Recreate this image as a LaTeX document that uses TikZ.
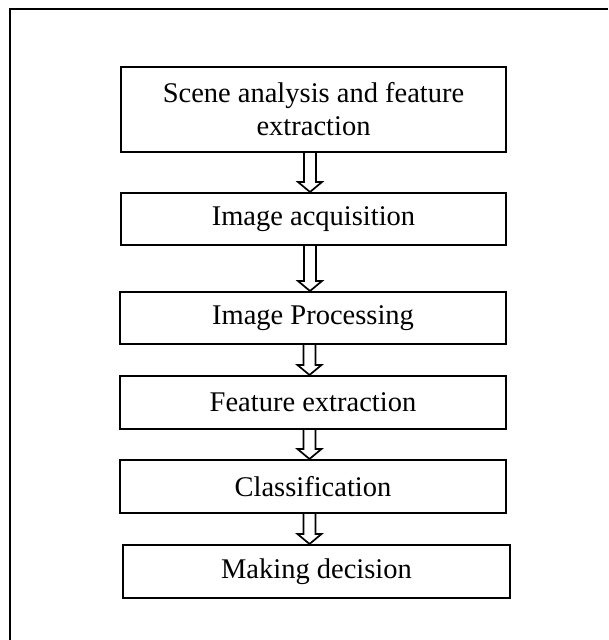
\documentclass[tikz,border=0pt]{standalone}
\usepackage{fontspec}
\setmainfont{Liberation Serif}
\usetikzlibrary{calc}
\tikzset{
  box/.style={draw=black, line width=2pt, fill=white, inner sep=0pt, align=center,
    font=\fontsize{28.5}{33}\selectfont},
  harrow/.style={draw=black, line width=1.7pt, line join=miter},
  frame/.style={draw=black, line width=2.6pt}
}
\newcommand\hollowarrow[2]{%
  \draw[harrow] ($(#1.south)+(-9.5pt,0pt)$)
    -- ($(#1.south |- #2.north)+(-9.5pt,10pt)$)
    -- ($(#1.south |- #2.north)+(-15.5pt,10pt)$)
    -- ($(#1.south |- #2.north)+(-3.5pt,0pt)$)
    -- ($(#1.south |- #2.north)+(8.5pt,10pt)$)
    -- ($(#1.south |- #2.north)+(2.5pt,10pt)$)
    -- ($(#1.south)+(2.5pt,0pt)$);}
\begin{document}
\begin{tikzpicture}[x=1pt,y=-1pt]
\useasboundingbox (0,0) rectangle (608,640);
\fill[white] (0,0) rectangle (608,640);
\draw[frame] (608,9) -- (10,9) -- (10,640);
\node[box, minimum width=385pt, minimum height=85pt] (b1) at (313.5,109.5) {Scene analysis and feature\\extraction};
\node[box, minimum width=385pt, minimum height=52pt] (b2) at (313.5,219) {Image acquisition};
\node[box, minimum width=386pt, minimum height=52pt] (b3) at (313,318) {Image Processing};
\node[box, minimum width=386pt, minimum height=53pt] (b4) at (313,402.5) {Feature extraction};
\node[box, minimum width=386pt, minimum height=53pt] (b5) at (313,486.5) {Classification};
\node[box, minimum width=387pt, minimum height=53pt] (b6) at (316.5,571.5) {Making decision};
\hollowarrow{b1}{b2}
\hollowarrow{b2}{b3}
\hollowarrow{b3}{b4}
\hollowarrow{b4}{b5}
\hollowarrow{b5}{b6}
\end{tikzpicture}
\end{document}
